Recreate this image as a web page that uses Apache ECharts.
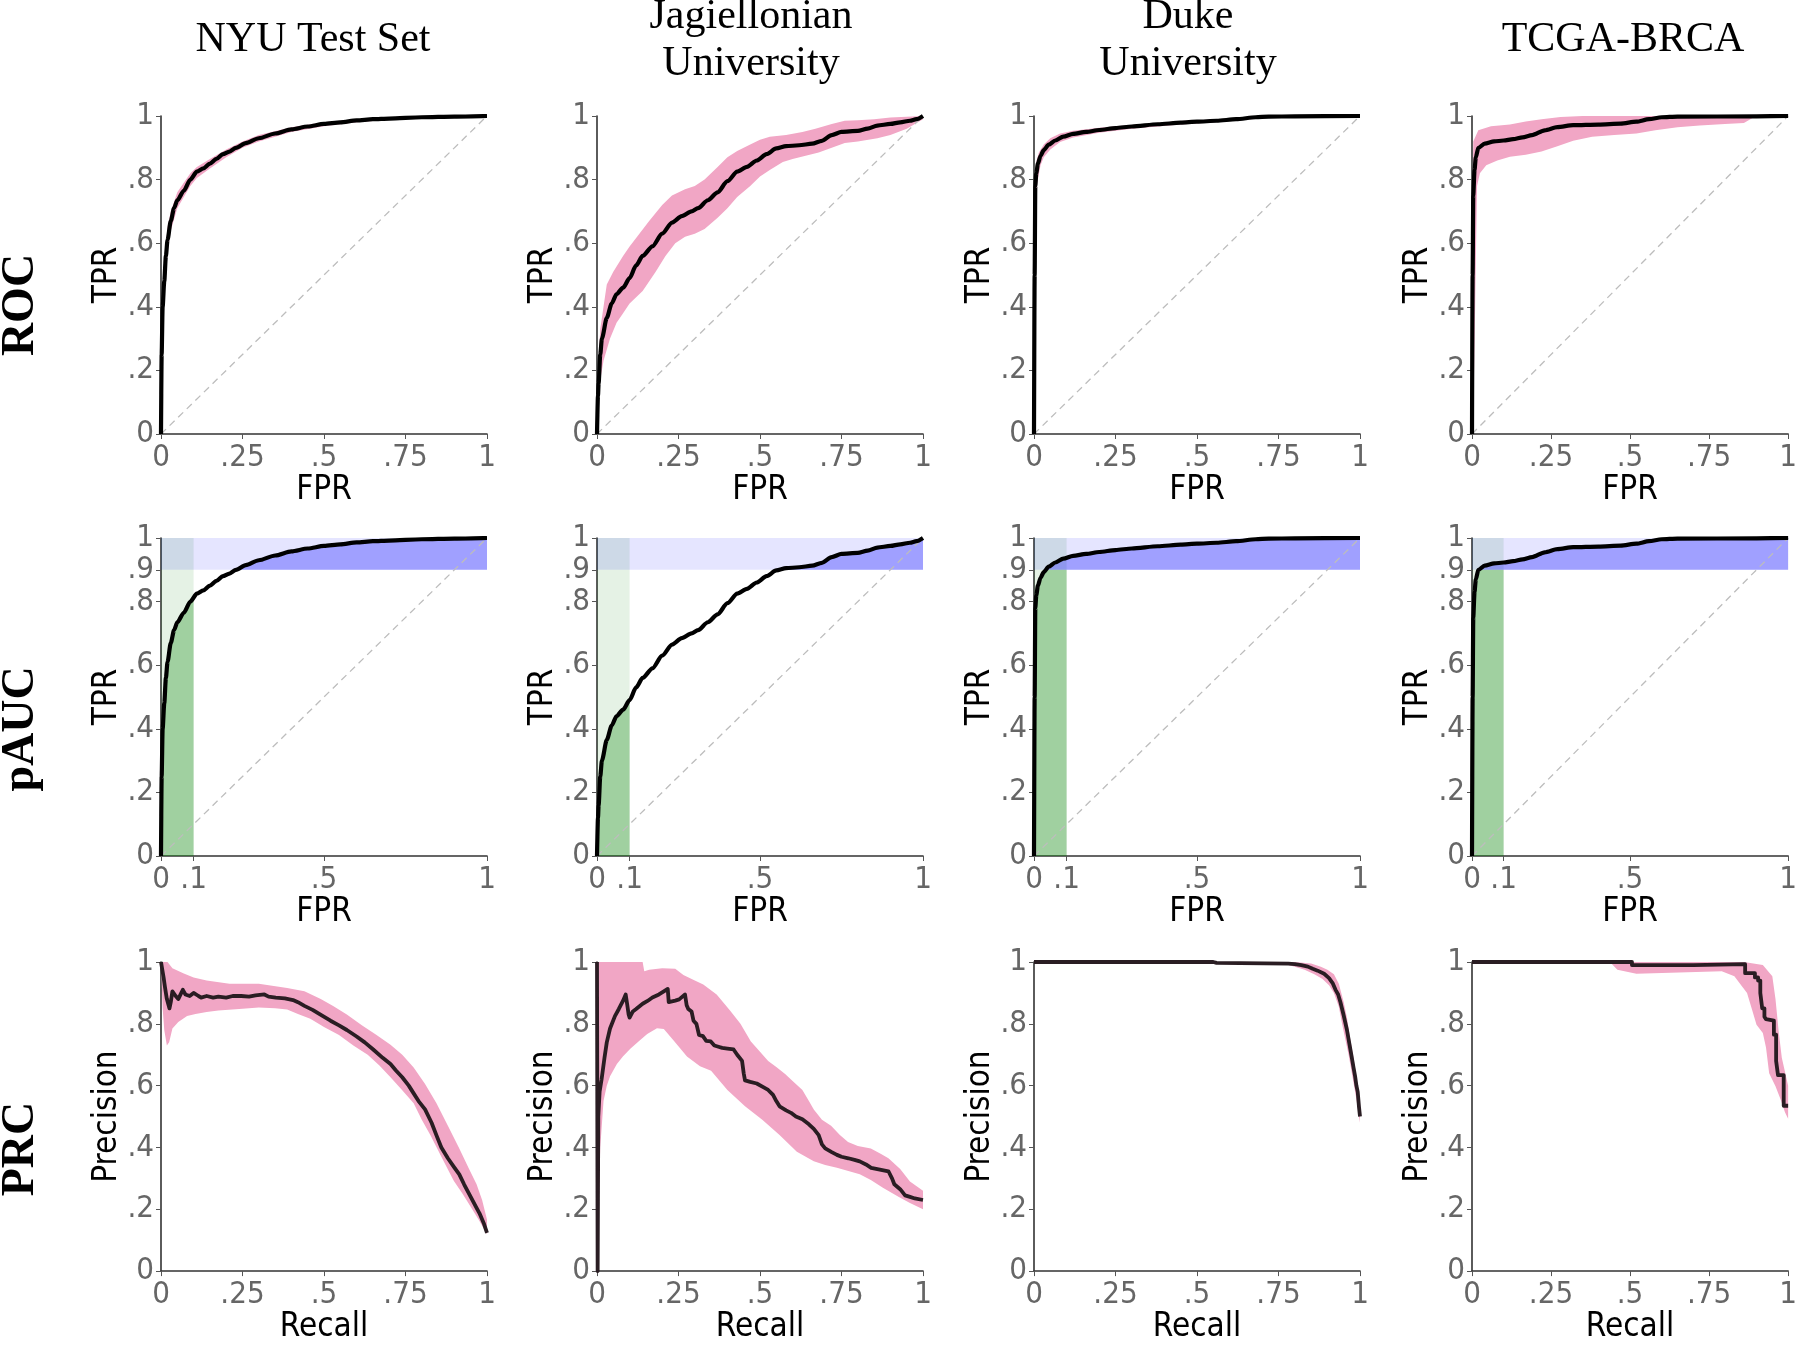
<!DOCTYPE html>
<html><head><meta charset="utf-8">
<script src="https://cdn.jsdelivr.net/npm/echarts@6/dist/echarts.min.js"></script>
<style>html,body{margin:0;padding:0;background:#fff}#c{width:1800px;height:1345px}</style>
</head><body><div id="c"></div>
<script>
// ---------- labels / ticks ----------
const columnTitles = ['NYU Test Set', 'Jagiellonian\nUniversity', 'Duke\nUniversity', 'TCGA-BRCA'];
const rowTitles = ['ROC', 'pAUC', 'PRC'];
const xAxisNames = ['FPR', 'FPR', 'Recall'];
const yAxisNames = ['TPR', 'TPR', 'Precision'];
const xTicksStd = [0, 0.25, 0.5, 0.75, 1];
const xTicksPauc = [0, 0.1, 0.5, 1];
const yTicksStd = [0, 0.2, 0.4, 0.6, 0.8, 1];
const yTicksPauc = [0, 0.2, 0.4, 0.6, 0.8, 0.9, 1];
const paucFprMax = 0.1;
const paucTprMin = 0.9;
const chanceLine = [[0, 0], [1, 1]];

// ---------- ROC curves ----------
const nyuRoc = [[0,0],[0.002,0.25],[0.005,0.40],[0.01,0.48],[0.015,0.56],[0.02,0.61],[0.03,0.67],[0.04,0.71],[0.05,0.735],[0.07,0.765],[0.09,0.80],[0.11,0.825],[0.13,0.835],[0.15,0.85],[0.17,0.865],[0.19,0.88],[0.21,0.888],[0.23,0.90],[0.26,0.915],[0.30,0.93],[0.35,0.945],[0.40,0.958],[0.45,0.967],[0.50,0.975],[0.55,0.98],[0.60,0.986],[0.65,0.99],[0.70,0.992],[0.80,0.996],[0.90,0.998],[1,1]];
const nyuRocHi = [[0,0],[0.002,0.30],[0.005,0.45],[0.01,0.53],[0.02,0.65],[0.03,0.70],[0.05,0.76],[0.07,0.79],[0.09,0.82],[0.11,0.84],[0.15,0.865],[0.20,0.895],[0.25,0.92],[0.30,0.94],[0.40,0.965],[0.50,0.98],[0.60,0.99],[0.70,0.995],[0.80,0.998],[1,1]];
const nyuRocLo = [[0,0],[0.003,0.20],[0.006,0.36],[0.01,0.43],[0.02,0.57],[0.03,0.64],[0.05,0.71],[0.07,0.745],[0.09,0.78],[0.11,0.805],[0.15,0.835],[0.20,0.87],[0.25,0.90],[0.30,0.92],[0.40,0.95],[0.50,0.968],[0.60,0.98],[0.70,0.988],[0.80,0.993],[1,1]];

const jagRoc = [[0,0],[0.003,0.12],[0.005,0.16],[0.01,0.25],[0.015,0.30],[0.03,0.365],[0.045,0.41],[0.06,0.44],[0.08,0.46],[0.10,0.49],[0.12,0.53],[0.14,0.56],[0.17,0.59],[0.20,0.63],[0.23,0.665],[0.26,0.685],[0.29,0.70],[0.31,0.71],[0.34,0.735],[0.37,0.76],[0.40,0.795],[0.43,0.825],[0.46,0.84],[0.49,0.86],[0.52,0.88],[0.55,0.898],[0.58,0.905],[0.62,0.908],[0.66,0.913],[0.69,0.922],[0.72,0.94],[0.75,0.95],[0.80,0.953],[0.83,0.96],[0.86,0.97],[0.90,0.975],[0.93,0.98],[0.96,0.985],[0.98,0.99],[1,1]];
const jagRocHi = [[0,0],[0.003,0.20],[0.01,0.33],[0.02,0.40],[0.03,0.47],[0.05,0.51],[0.08,0.56],[0.10,0.59],[0.13,0.63],[0.16,0.67],[0.20,0.72],[0.23,0.75],[0.27,0.77],[0.30,0.78],[0.33,0.80],[0.37,0.84],[0.40,0.87],[0.43,0.89],[0.47,0.91],[0.50,0.925],[0.53,0.935],[0.58,0.94],[0.63,0.95],[0.67,0.96],[0.72,0.975],[0.76,0.985],[0.80,0.987],[0.85,0.99],[0.90,0.995],[1,1]];
const jagRocLo = [[0,0],[0.005,0.10],[0.01,0.17],[0.02,0.23],[0.04,0.30],[0.06,0.35],[0.08,0.38],[0.10,0.41],[0.14,0.45],[0.18,0.51],[0.21,0.56],[0.24,0.60],[0.27,0.62],[0.30,0.63],[0.33,0.645],[0.37,0.68],[0.40,0.71],[0.43,0.745],[0.47,0.78],[0.50,0.81],[0.53,0.83],[0.57,0.855],[0.60,0.865],[0.64,0.875],[0.68,0.885],[0.72,0.90],[0.76,0.915],[0.80,0.92],[0.86,0.93],[0.90,0.94],[0.95,0.96],[1,0.99]];

const dukeRoc = [[0,0],[0.002,0.50],[0.004,0.78],[0.007,0.82],[0.012,0.85],[0.02,0.875],[0.03,0.893],[0.045,0.91],[0.065,0.923],[0.09,0.935],[0.12,0.944],[0.16,0.95],[0.20,0.956],[0.25,0.962],[0.30,0.967],[0.38,0.974],[0.45,0.979],[0.50,0.982],[0.56,0.985],[0.62,0.99],[0.68,0.996],[0.72,0.998],[0.80,0.999],[1,1]];
const dukeRocHi = [[0,0],[0.002,0.60],[0.004,0.83],[0.008,0.86],[0.015,0.885],[0.03,0.91],[0.05,0.93],[0.08,0.945],[0.12,0.954],[0.20,0.963],[0.30,0.972],[0.45,0.984],[0.55,0.989],[0.65,0.995],[0.70,0.999],[1,1]];
const dukeRocLo = [[0,0],[0.003,0.40],[0.006,0.72],[0.01,0.79],[0.02,0.845],[0.03,0.87],[0.05,0.895],[0.08,0.918],[0.12,0.932],[0.20,0.947],[0.30,0.96],[0.45,0.973],[0.55,0.98],[0.65,0.988],[0.72,0.995],[1,1]];

const tcgaRoc = [[0,0],[0.002,0.50],[0.004,0.75],[0.008,0.83],[0.012,0.87],[0.02,0.90],[0.04,0.913],[0.07,0.92],[0.10,0.923],[0.13,0.927],[0.16,0.933],[0.19,0.94],[0.23,0.955],[0.27,0.965],[0.32,0.971],[0.40,0.973],[0.47,0.976],[0.52,0.982],[0.56,0.99],[0.60,0.996],[0.65,0.998],[0.90,0.999],[1,1]];
const tcgaRocHi = [[0,0],[0.002,0.55],[0.004,0.92],[0.02,0.955],[0.06,0.968],[0.12,0.973],[0.17,0.983],[0.22,0.99],[0.28,0.997],[0.35,1],[1,1]];
const tcgaRocLo = [[0,0],[0.005,0.10],[0.01,0.40],[0.013,0.60],[0.016,0.78],[0.025,0.82],[0.045,0.845],[0.08,0.86],[0.12,0.872],[0.17,0.878],[0.22,0.888],[0.27,0.905],[0.32,0.922],[0.38,0.935],[0.45,0.94],[0.52,0.945],[0.58,0.955],[0.65,0.965],[0.72,0.97],[0.80,0.975],[0.86,0.978],[0.89,0.995],[0.92,1],[1,1]];

// ---------- PR curves ----------
const nyuPrc = [[0,1],[0.005,1],[0.008,0.95],[0.012,0.92],[0.018,0.88],[0.026,0.85],[0.03,0.87],[0.035,0.905],[0.045,0.89],[0.053,0.88],[0.06,0.895],[0.067,0.91],[0.075,0.895],[0.088,0.89],[0.10,0.90],[0.106,0.905],[0.115,0.89],[0.123,0.885],[0.14,0.89],[0.16,0.885],[0.176,0.888],[0.20,0.885],[0.22,0.89],[0.246,0.89],[0.27,0.888],[0.29,0.892],[0.317,0.895],[0.33,0.888],[0.352,0.885],[0.38,0.882],[0.405,0.877],[0.42,0.87],[0.44,0.858],[0.465,0.845],[0.493,0.827],[0.52,0.81],[0.546,0.795],[0.57,0.78],[0.60,0.759],[0.625,0.74],[0.651,0.717],[0.68,0.69],[0.704,0.67],[0.72,0.65],[0.74,0.627],[0.76,0.60],[0.775,0.575],[0.79,0.55],[0.81,0.523],[0.83,0.48],[0.845,0.439],[0.86,0.40],[0.88,0.365],[0.90,0.335],[0.915,0.313],[0.93,0.28],[0.95,0.24],[0.965,0.21],[0.977,0.187],[0.99,0.155],[1,0.124]];
const nyuPrcHi = [[0,1],[0.02,1],[0.035,0.98],[0.07,0.963],[0.10,0.95],[0.14,0.94],[0.21,0.93],[0.30,0.93],[0.387,0.916],[0.44,0.905],[0.49,0.88],[0.528,0.858],[0.57,0.83],[0.616,0.795],[0.66,0.765],[0.704,0.732],[0.74,0.70],[0.775,0.659],[0.81,0.605],[0.845,0.543],[0.88,0.47],[0.915,0.397],[0.945,0.33],[0.968,0.281],[0.985,0.23],[1,0.166]];
const nyuPrcLo = [[0,1],[0.005,0.85],[0.01,0.78],[0.018,0.73],[0.025,0.74],[0.035,0.785],[0.053,0.806],[0.08,0.825],[0.106,0.832],[0.14,0.838],[0.176,0.843],[0.24,0.848],[0.30,0.853],[0.35,0.85],[0.387,0.846],[0.42,0.832],[0.458,0.816],[0.50,0.79],[0.546,0.764],[0.59,0.73],[0.634,0.70],[0.67,0.665],[0.704,0.627],[0.74,0.585],[0.775,0.543],[0.80,0.49],[0.827,0.439],[0.86,0.37],[0.898,0.292],[0.925,0.25],[0.95,0.208],[0.975,0.165],[1,0.119]];

const jagPrc = [[0,1],[0.002,0],[0.004,0.50],[0.008,0.58],[0.014,0.62],[0.023,0.69],[0.03,0.74],[0.04,0.785],[0.055,0.825],[0.067,0.848],[0.08,0.875],[0.088,0.895],[0.093,0.86],[0.097,0.83],[0.10,0.82],[0.11,0.84],[0.12,0.848],[0.14,0.865],[0.155,0.874],[0.17,0.885],[0.19,0.895],[0.205,0.905],[0.217,0.913],[0.22,0.87],[0.222,0.864],[0.24,0.875],[0.252,0.879],[0.262,0.888],[0.27,0.895],[0.275,0.86],[0.28,0.848],[0.29,0.84],[0.296,0.81],[0.305,0.80],[0.313,0.764],[0.325,0.76],[0.335,0.745],[0.349,0.743],[0.36,0.73],[0.375,0.725],[0.384,0.722],[0.40,0.72],[0.419,0.717],[0.43,0.70],[0.445,0.68],[0.45,0.64],[0.454,0.617],[0.47,0.612],[0.49,0.607],[0.51,0.595],[0.525,0.586],[0.54,0.57],[0.55,0.55],[0.56,0.533],[0.58,0.52],[0.595,0.512],[0.61,0.50],[0.63,0.491],[0.65,0.475],[0.665,0.46],[0.68,0.44],[0.69,0.41],[0.70,0.397],[0.72,0.385],[0.736,0.376],[0.75,0.37],[0.771,0.365],[0.79,0.36],[0.806,0.355],[0.825,0.345],[0.841,0.334],[0.86,0.33],[0.894,0.323],[0.905,0.30],[0.912,0.281],[0.93,0.265],[0.945,0.245],[0.96,0.24],[0.975,0.235],[1,0.23]];
const jagPrcHi = [[0,1],[0.14,1],[0.145,0.97],[0.16,0.975],[0.20,0.98],[0.24,0.978],[0.265,0.958],[0.30,0.94],[0.326,0.927],[0.367,0.895],[0.408,0.843],[0.44,0.80],[0.472,0.743],[0.50,0.71],[0.525,0.68],[0.55,0.66],[0.577,0.638],[0.60,0.615],[0.63,0.586],[0.65,0.55],[0.665,0.523],[0.69,0.49],[0.718,0.47],[0.745,0.44],[0.77,0.418],[0.80,0.405],[0.84,0.397],[0.87,0.38],[0.894,0.365],[0.93,0.33],[0.96,0.29],[1,0.26]];
const jagPrcLo = [[0,0],[0.005,0.20],[0.01,0.40],[0.02,0.55],[0.03,0.60],[0.04,0.63],[0.061,0.67],[0.08,0.695],[0.103,0.72],[0.13,0.745],[0.154,0.767],[0.184,0.786],[0.205,0.783],[0.235,0.746],[0.276,0.694],[0.316,0.663],[0.35,0.648],[0.40,0.586],[0.454,0.533],[0.507,0.49],[0.56,0.44],[0.613,0.386],[0.665,0.355],[0.70,0.343],[0.736,0.334],[0.806,0.313],[0.84,0.295],[0.877,0.27],[0.926,0.24],[0.96,0.22],[1,0.20]];

const dukePrc = [[0,1],[0.55,1],[0.56,0.997],[0.78,0.995],[0.80,0.993],[0.82,0.99],[0.84,0.985],[0.855,0.978],[0.87,0.972],[0.89,0.962],[0.905,0.948],[0.916,0.932],[0.925,0.91],[0.933,0.895],[0.94,0.87],[0.95,0.827],[0.96,0.78],[0.968,0.732],[0.975,0.69],[0.98,0.659],[0.985,0.63],[0.989,0.60],[0.993,0.58],[0.997,0.53],[1,0.50]];
const dukePrcHi = [[0,1],[0.80,1],[0.85,0.995],[0.88,0.985],[0.90,0.975],[0.92,0.96],[0.935,0.93],[0.95,0.87],[0.96,0.82],[0.97,0.75],[0.98,0.69],[0.99,0.62],[1,0.53]];
const dukePrcLo = [[0,1],[0.55,1],[0.60,0.993],[0.78,0.99],[0.80,0.985],[0.83,0.975],[0.86,0.96],[0.885,0.945],[0.905,0.925],[0.92,0.90],[0.935,0.855],[0.945,0.80],[0.955,0.75],[0.965,0.70],[0.975,0.64],[0.985,0.58],[0.993,0.53],[1,0.48]];

const tcgaPrc = [[0,1],[0.506,1],[0.506,0.99],[0.70,0.99],[0.864,0.993],[0.864,0.964],[0.895,0.964],[0.895,0.95],[0.905,0.95],[0.905,0.94],[0.912,0.94],[0.912,0.90],[0.918,0.90],[0.918,0.85],[0.925,0.85],[0.925,0.823],[0.93,0.823],[0.93,0.815],[0.955,0.81],[0.955,0.765],[0.962,0.765],[0.962,0.68],[0.968,0.68],[0.968,0.634],[0.986,0.634],[0.986,0.535],[1,0.535]];
const tcgaPrcHi = [[0,1],[0.86,1],[0.92,0.99],[0.95,0.954],[0.96,0.88],[0.97,0.776],[0.98,0.69],[1,0.60]];
const tcgaPrcLo = [[0,1],[0.44,0.996],[0.46,0.975],[0.52,0.962],[0.79,0.97],[0.83,0.954],[0.87,0.90],[0.885,0.849],[0.90,0.797],[0.92,0.77],[0.93,0.723],[0.94,0.64],[0.96,0.598],[0.976,0.556],[0.99,0.514],[1,0.493]];

const rocCurves = [nyuRoc, jagRoc, dukeRoc, tcgaRoc];
const rocUpper = [nyuRocHi, jagRocHi, dukeRocHi, tcgaRocHi];
const rocLower = [nyuRocLo, jagRocLo, dukeRocLo, tcgaRocLo];
const prcCurves = [nyuPrc, jagPrc, dukePrc, tcgaPrc];
const prcUpper = [nyuPrcHi, jagPrcHi, dukePrcHi, tcgaPrcHi];
const prcLower = [nyuPrcLo, jagPrcLo, dukePrcLo, tcgaPrcLo];

// ---------- layout / style ----------
const gridLeft = [161, 597, 1034, 1472];
const gridTop = [116, 538, 962];
const GW = 326, GH = 318;
const SANS = '"Liberation Sans Narrow", "Arial Narrow", "DejaVu Sans Condensed", "Liberation Sans", sans-serif';
const SERIF = '"Liberation Serif", "Times New Roman", serif';
const PINK = '#F1A6C5';

function fmt(v) {
  if (Math.abs(v) < 1e-9) return '0';
  if (Math.abs(v - 1) < 1e-9) return '1';
  return String(+v.toFixed(2)).replace(/^0\./, '.');
}
function interpY(curve, x) {
  for (let i = 1; i < curve.length; i++) {
    const a = curve[i - 1], b = curve[i];
    if (x >= a[0] && x <= b[0]) {
      if (b[0] === a[0]) return b[1];
      return a[1] + (b[1] - a[1]) * (x - a[0]) / (b[0] - a[0]);
    }
  }
  return curve[curve.length - 1][1];
}
function polySeries(idx, pts, color, z) {
  return {
    type: 'custom', coordinateSystem: 'cartesian2d', xAxisIndex: idx, yAxisIndex: idx,
    silent: true, z: z, clip: false, data: [[0, 0]],
    renderItem: function (params, api) {
      return { type: 'polygon', shape: { points: pts.map(p => api.coord(p)) }, style: { fill: color } };
    }
  };
}

const grids = [], xAxes = [], yAxes = [], series = [];
for (let r = 0; r < 3; r++) {
  for (let c = 0; c < 4; c++) {
    const idx = r * 4 + c;
    grids.push({ left: gridLeft[c], top: gridTop[r], width: GW, height: GH });
    const xt = r === 1 ? xTicksPauc : xTicksStd;
    const yt = r === 1 ? yTicksPauc : yTicksStd;
    xAxes.push({
      gridIndex: idx, type: 'value', min: 0, max: 1,
      name: xAxisNames[r], nameLocation: 'middle', nameGap: 38,
      nameTextStyle: { color: '#000', fontSize: 33, fontFamily: SANS },
      axisLine: { show: true, onZero: false, lineStyle: { color: '#333', width: 1.6 } },
      axisTick: { show: true, customValues: xt, length: 5, lineStyle: { color: '#555', width: 1 } },
      axisLabel: { customValues: xt, formatter: fmt, color: '#666', fontSize: 31, margin: 8, fontFamily: SANS },
      splitLine: { show: false }
    });
    yAxes.push({
      gridIndex: idx, type: 'value', min: 0, max: 1,
      name: yAxisNames[r], nameLocation: 'middle', nameGap: 37,
      nameTextStyle: { color: '#000', fontSize: 33, fontFamily: SANS },
      axisLine: { show: true, onZero: false, lineStyle: { color: '#333', width: 1.6 } },
      axisTick: { show: true, customValues: yt, length: 5, lineStyle: { color: '#555', width: 1 } },
      axisLabel: { customValues: yt, formatter: fmt, color: '#666', fontSize: 31, margin: 7, fontFamily: SANS },
      splitLine: { show: false }
    });

    if (r === 0) {
      series.push(polySeries(idx, rocUpper[c].concat(rocLower[c].slice().reverse()), PINK, 1));
    } else if (r === 2) {
      series.push(polySeries(idx, prcUpper[c].concat(prcLower[c].slice().reverse()), PINK, 1));
    } else {
      const curve = rocCurves[c];
      series.push(polySeries(idx, [[0, 0], [paucFprMax, 0], [paucFprMax, 1], [0, 1]], 'rgba(0,128,0,0.1)', 1));
      series.push(polySeries(idx, [[0, paucTprMin], [1, paucTprMin], [1, 1], [0, 1]], 'rgba(0,0,255,0.1)', 1));
      const g = [[0, 0]];
      curve.forEach(p => { if (p[0] < paucFprMax) g.push([p[0], Math.min(p[1], paucTprMin)]); });
      g.push([paucFprMax, Math.min(interpY(curve, paucFprMax), paucTprMin)]);
      g.push([paucFprMax, 0]);
      series.push(polySeries(idx, g, 'rgba(0,128,0,0.3)', 1));
      const b = curve.map(p => [p[0], Math.max(p[1], paucTprMin)]);
      b.push([1, paucTprMin], [0, paucTprMin]);
      series.push(polySeries(idx, b, 'rgba(0,0,255,0.3)', 1));
    }
    if (r < 2) {
      series.push({
        type: 'line', xAxisIndex: idx, yAxisIndex: idx, data: chanceLine, silent: true, z: 2,
        showSymbol: false, symbol: 'none',
        lineStyle: { color: '#bdbdbd', width: 1.3, type: [7, 5] }
      });
    }
    const curve = r === 2 ? prcCurves[c] : rocCurves[c];
    series.push({
      type: 'line', xAxisIndex: idx, yAxisIndex: idx, data: curve, silent: true, z: 3,
      showSymbol: false, symbol: 'none',
      smooth: r === 2 ? false : 0.25, smoothMonotone: 'x',
      lineStyle: { color: r === 2 ? '#2a1d23' : '#000', width: r === 2 ? 3.8 : 4.2, join: 'round' }
    });
  }
}

const titleX = [313, 751, 1188, 1623];
const rowLabelY = [305, 729, 1149];
const graphics = [];
columnTitles.forEach((t, i) => graphics.push({
  type: 'text', x: titleX[i], y: 40, silent: true,
  style: { text: t, fontSize: 42, fontFamily: SERIF, fill: '#000', align: 'center', verticalAlign: 'middle', lineHeight: 47 }
}));
rowTitles.forEach((t, i) => graphics.push({
  type: 'text', x: 21, y: rowLabelY[i], rotation: Math.PI / 2, silent: true,
  style: { text: t, fontSize: 46, fontWeight: 'bold', fontFamily: SERIF, fill: '#000', align: 'center', verticalAlign: 'middle' }
}));

const chart = echarts.init(document.getElementById('c'), null, { renderer: 'canvas' });
chart.setOption({
  animation: false,
  backgroundColor: '#fff',
  grid: grids, xAxis: xAxes, yAxis: yAxes, series: series, graphic: graphics
});
</script>
</body></html>
